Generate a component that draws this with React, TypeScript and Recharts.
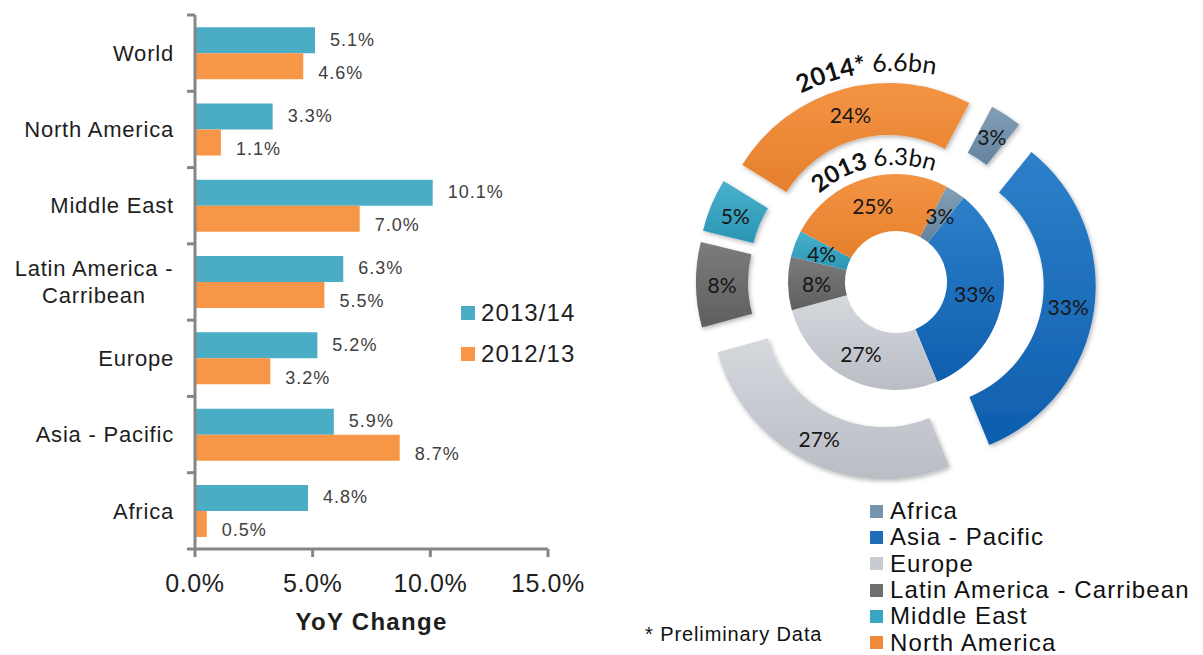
import { BarChart, Bar, XAxis, YAxis, LabelList, Legend, PieChart, Pie, Cell, Sector } from 'recharts';

// YoY change by region (left chart)
const regions = ['World', 'North America', 'Middle East', 'Latin America - Carribean', 'Europe', 'Asia - Pacific', 'Africa'];
const change1314 = [5.1, 3.3, 10.1, 6.3, 5.2, 5.9, 4.8];
const change1213 = [4.6, 1.1, 7.0, 5.5, 3.2, 8.7, 0.5];
const changeTicks = [0, 5, 10, 15];
const seriesNames = ['2013/14', '2012/13'];

// Share by region (right chart)
const shareRegions = ['Africa', 'Asia - Pacific', 'Europe', 'Latin America - Carribean', 'Middle East', 'North America'];
const share2013 = [3, 33, 27, 8, 4, 25];
const share2014 = [3, 33, 27, 8, 5, 24];

const barData = regions.map((name, i) => ({ name, y1314: change1314[i], y1213: change1213[i] }));
const pie2013 = shareRegions.map((name, i) => ({ name, value: share2013[i] }));
const pie2014 = shareRegions.map((name, i) => ({ name, value: share2014[i] }));

const COLORS = {
  s1314: '#4BACC6',
  s1213: '#F79646',
  axis: '#868686',
  text: '#1e1e1e',
  value: '#404040',
};
// solid colour + gradient top/bottom per region
const shareColors = ['#7594AD', '#1D6DBB', '#C8CBD1', '#6E6E6E', '#3BA6C4', '#EE8A3A'];
const shareShades = [
  ['#829FB7', '#64839D'],
  ['#2E80C9', '#0E5EAE'],
  ['#D5D8DD', '#B9BDC4'],
  ['#7C7C7C', '#5E5E5E'],
  ['#48B1CD', '#2B95B3'],
  ['#F39444', '#E67F2C'],
];

const SANS = '"Liberation Sans", Arial, sans-serif';
const CALIBRI = 'Lato, "Open Sans", sans-serif';

// left chart layout
const PLOT_TOP = 15;
const PLOT_BOTTOM = 549;
const BAND = (PLOT_BOTTOM - PLOT_TOP) / regions.length;

// right chart layout
const PIE_LEFT = 640;
const PIE_CX = 256;
const PIE_CY = 282;
const EXPLODE = 28;
const RAD = Math.PI / 180;

function wrapWords(text: string, max: number): string[] {
  const out: string[] = [];
  let line = '';
  for (const w of text.split(' ')) {
    const next = line ? `${line} ${w}` : w;
    if (next.length > max && line) {
      out.push(line);
      line = w;
    } else {
      line = next;
    }
  }
  if (line) out.push(line);
  return out;
}

function RegionTick(props: any) {
  const { x, y, payload, index } = props;
  const lines = wrapWords(String(payload.value), 15);
  const top = y - BAND / 2;
  const right = x - 21;
  const textStyle = { fontFamily: SANS, fontSize: 22, letterSpacing: 0.8, fill: COLORS.text };
  return (
    <g>
      <line x1={x - 8} x2={x} y1={top} y2={top} stroke={COLORS.axis} strokeWidth={3} />
      {index === regions.length - 1 && (
        <line x1={x - 8} x2={x} y1={y + BAND / 2} y2={y + BAND / 2} stroke={COLORS.axis} strokeWidth={3} />
      )}
      {lines.length === 1 ? (
        <text x={right} y={y} dy="0.35em" textAnchor="end" style={textStyle}>
          {lines[0]}
        </text>
      ) : (
        <text x={right - 80} y={y - ((lines.length - 1) * 27) / 2} textAnchor="middle" style={textStyle}>
          {lines.map((l, k) => (
            <tspan key={k} x={right - 80} dy={k === 0 ? '0.35em' : 27}>
              {l}
            </tspan>
          ))}
        </text>
      )}
    </g>
  );
}

function makeValueLabel(dy: number) {
  return (props: any) => {
    const vb = props.viewBox && props.viewBox.width != null ? props.viewBox : props;
    const { x, y, width, height } = vb;
    return (
      <text
        x={x + width + 15}
        y={y + height / 2 + dy}
        dy="0.35em"
        style={{ fontFamily: SANS, fontSize: 18, letterSpacing: 1, fill: COLORS.value }}
      >
        {Number(props.value).toFixed(1)}%
      </text>
    );
  };
}

function BarLegend(props: any) {
  const items = [...(props.payload ?? [])].sort(
    (a: any, b: any) => seriesNames.indexOf(a.value) - seriesNames.indexOf(b.value),
  );
  return (
    <div style={{ fontFamily: SANS, fontSize: 24, letterSpacing: 1.1, color: COLORS.text }}>
      {items.map((p: any) => (
        <div key={p.value} style={{ display: 'flex', alignItems: 'center', height: 41 }}>
          <span style={{ width: 14, height: 14, background: p.color, marginRight: 6, display: 'inline-block' }} />
          <span>{p.value}</span>
        </div>
      ))}
    </div>
  );
}

function ShareLegend(props: any) {
  const seen = new Set<string>();
  const items = (props.payload ?? []).filter((p: any) => {
    if (seen.has(p.value)) return false;
    seen.add(p.value);
    return true;
  });
  return (
    <div style={{ fontFamily: SANS, fontSize: 24, letterSpacing: 1.1, color: '#111' }}>
      {items.map((p: any) => (
        <div key={p.value} style={{ display: 'flex', alignItems: 'center', height: 26.3, whiteSpace: 'nowrap' }}>
          <span
            style={{
              width: 13,
              height: 13,
              background: shareColors[shareRegions.indexOf(p.value)],
              marginRight: 7,
              display: 'inline-block',
            }}
          />
          <span>{p.value}</span>
        </div>
      ))}
    </div>
  );
}

function innerLabel(props: any) {
  const { cx, cy, startAngle, endAngle, innerRadius, outerRadius } = props;
  const mid = ((startAngle + endAngle) / 2) * -RAD;
  const r = (innerRadius + outerRadius) / 2;
  const value = props.value ?? props.payload?.value;
  return (
    <text
      x={cx + r * Math.cos(mid)}
      y={cy + r * Math.sin(mid)}
      textAnchor="middle"
      dominantBaseline="central"
      style={{ fontFamily: CALIBRI, fontSize: 21, fill: '#161616' }}
    >
      {value}%
    </text>
  );
}

// outer ring is exploded: each sector is drawn shifted out along its mid angle
function explodedSector(props: any) {
  const { cx, cy, startAngle, endAngle, innerRadius, outerRadius, index } = props;
  const mid = ((startAngle + endAngle) / 2) * -RAD;
  const ox = cx + EXPLODE * Math.cos(mid);
  const oy = cy + EXPLODE * Math.sin(mid);
  const r = (innerRadius + outerRadius) / 2;
  const value = props.value ?? props.payload?.value;
  return (
    <g>
      <Sector
        cx={ox}
        cy={oy}
        innerRadius={innerRadius}
        outerRadius={outerRadius}
        startAngle={startAngle}
        endAngle={endAngle}
        fill={`url(#share${index})`}
        stroke="none"
        filter="url(#softShadow)"
      />
      <text
        x={ox + r * Math.cos(mid)}
        y={oy + r * Math.sin(mid)}
        textAnchor="middle"
        dominantBaseline="central"
        style={{ fontFamily: CALIBRI, fontSize: 21, fill: '#161616' }}
      >
        {value}%
      </text>
    </g>
  );
}

// arc for a curved title, angles in degrees clockwise from 12 o'clock
function arcPath(r: number, centre: number) {
  const pt = (a: number) => [PIE_CX + r * Math.sin(a * RAD), PIE_CY - r * Math.cos(a * RAD)];
  const [x0, y0] = pt(centre - 80);
  const [x1, y1] = pt(centre + 80);
  return `M ${x0} ${y0} A ${r} ${r} 0 0 1 ${x1} ${y1}`;
}

export default function App() {
  return (
    <div style={{ position: 'absolute', left: 0, top: 0, width: 1203, height: 655, background: '#fff', overflow: 'hidden' }}>
      <div style={{ position: 'absolute', left: 0, top: 0 }}>
        <BarChart
          width={640}
          height={655}
          data={barData}
          layout="vertical"
          margin={{ top: PLOT_TOP, right: 92, bottom: 16, left: 0 }}
          barCategoryGap="16%"
          barGap={0}
        >
          <XAxis
            type="number"
            domain={[0, 15]}
            ticks={changeTicks}
            tickFormatter={(v: number) => `${v.toFixed(1)}%`}
            height={90}
            tickSize={8}
            tickMargin={17}
            axisLine={{ stroke: COLORS.axis, strokeWidth: 3 }}
            tickLine={{ stroke: COLORS.axis, strokeWidth: 3 }}
            tick={{ fontFamily: SANS, fontSize: 25, letterSpacing: 0.6, fill: COLORS.text }}
            label={{
              value: 'YoY Change',
              position: 'insideBottom',
              offset: 9,
              fontFamily: SANS,
              fontSize: 24,
              fontWeight: 'bold',
              letterSpacing: 1.3,
              fill: COLORS.text,
            }}
          />
          <YAxis
            type="category"
            dataKey="name"
            width={195}
            tickSize={0}
            tickMargin={0}
            tickLine={false}
            axisLine={{ stroke: COLORS.axis, strokeWidth: 3 }}
            tick={<RegionTick />}
            interval={0}
          />
          <Legend
            layout="vertical"
            align="center"
            verticalAlign="middle"
            content={<BarLegend />}
            wrapperStyle={{ position: 'absolute', left: 461, top: 292, width: 160 }}
          />
          <Bar dataKey="y1314" name={seriesNames[0]} fill={COLORS.s1314} isAnimationActive={false}>
            <LabelList dataKey="y1314" content={makeValueLabel(-1)} />
          </Bar>
          <Bar dataKey="y1213" name={seriesNames[1]} fill={COLORS.s1213} isAnimationActive={false}>
            <LabelList dataKey="y1213" content={makeValueLabel(6)} />
          </Bar>
        </BarChart>
      </div>

      <svg width={0} height={0} style={{ position: 'absolute' }}>
        <defs>
          {shareShades.map(([a, b], i) => (
            <linearGradient key={i} id={`share${i}`} x1="0" y1="0" x2="0" y2="1">
              <stop offset="0%" stopColor={a} />
              <stop offset="100%" stopColor={b} />
            </linearGradient>
          ))}
          <filter id="softShadow" x="-20%" y="-20%" width="140%" height="140%">
            <feDropShadow dx="1.5" dy="2" stdDeviation="2" floodColor="#000" floodOpacity="0.28" />
          </filter>
        </defs>
      </svg>

      <div style={{ position: 'absolute', left: PIE_LEFT, top: 0 }}>
        <PieChart width={563} height={655} margin={{ top: 0, right: 0, bottom: 0, left: 0 }}>
          <Pie
            data={pie2013}
            dataKey="value"
            nameKey="name"
            cx={PIE_CX}
            cy={PIE_CY}
            innerRadius={51}
            outerRadius={108}
            startAngle={62}
            endAngle={-298}
            stroke="none"
            label={innerLabel}
            labelLine={false}
            isAnimationActive={false}
          >
            {pie2013.map((d, i) => (
              <Cell key={d.name} fill={`url(#share${i})`} />
            ))}
          </Pie>
          <Pie
            data={pie2014}
            dataKey="value"
            nameKey="name"
            cx={PIE_CX}
            cy={PIE_CY}
            innerRadius={120}
            outerRadius={172}
            startAngle={62}
            endAngle={-298}
            fill="none"
            stroke="none"
            legendType="none"
            label={explodedSector}
            labelLine={false}
            isAnimationActive={false}
          />
          <Legend
            layout="vertical"
            align="center"
            verticalAlign="middle"
            content={<ShareLegend />}
            wrapperStyle={{ position: 'absolute', left: 230, top: 498, width: 340 }}
          />
        </PieChart>
      </div>

      <svg
        width={563}
        height={500}
        style={{ position: 'absolute', left: PIE_LEFT, top: 0, pointerEvents: 'none' }}
      >
        <path id="arc2014" d={arcPath(211, -8)} fill="none" />
        <path id="arc2013" d={arcPath(117, -11)} fill="none" />
        <text style={{ fontFamily: CALIBRI, fontSize: 25, fill: '#111' }}>
          <textPath href="#arc2014" startOffset="50%" textAnchor="middle">
            <tspan fontWeight="bold">2014*</tspan> 6.6bn
          </textPath>
        </text>
        <text style={{ fontFamily: CALIBRI, fontSize: 24, fill: '#111' }}>
          <textPath href="#arc2013" startOffset="50%" textAnchor="middle">
            <tspan fontWeight="bold">2013</tspan> 6.3bn
          </textPath>
        </text>
      </svg>

      <div
        style={{
          position: 'absolute',
          left: 645,
          top: 623,
          fontFamily: SANS,
          fontSize: 20,
          letterSpacing: 0.9,
          color: '#111',
          whiteSpace: 'nowrap',
        }}
      >
        * Preliminary Data
      </div>
    </div>
  );
}
